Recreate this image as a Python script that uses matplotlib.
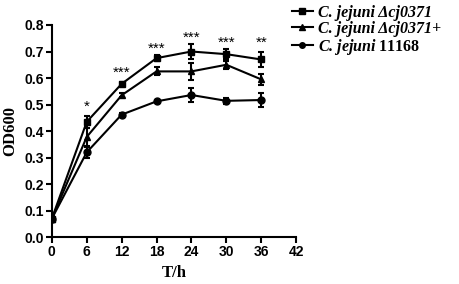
import matplotlib
matplotlib.use('Agg')
import matplotlib.pyplot as plt
from matplotlib.lines import Line2D
import numpy as np

##Data
hours = [0, 6, 12, 18, 24, 30, 36]
mutant = [0.07, 0.435, 0.578, 0.675, 0.700, 0.690, 0.670]
mutant_err = [0.01, 0.022, 0.008, 0.012, 0.027, 0.02, 0.03]
complement = [0.07, 0.378, 0.535, 0.625, 0.625, 0.650, 0.595]
complement_err = [0.01, 0.035, 0.008, 0.015, 0.033, 0.015, 0.022]
wildtype = [0.07, 0.320, 0.462, 0.512, 0.536, 0.514, 0.517]
wildtype_err = [0.01, 0.02, 0.006, 0.006, 0.026, 0.012, 0.025]
stars = ['', '*', '***', '***', '***', '***', '**']
star_y = [0, 0.49, 0.62, 0.71, 0.75, 0.732, 0.732]
labels = ['C. jejuni Δcj0371', 'C. jejuni Δcj0371+', r'C. jejuni $\mathrm{11168}$']
markers = ['s', '^', 'o']

plt.rcParams['mathtext.fontset'] = 'custom'
plt.rcParams['mathtext.it'] = 'Liberation Serif:italic:bold'
plt.rcParams['mathtext.rm'] = 'Liberation Serif:bold'
plt.rcParams['mathtext.bf'] = 'Liberation Serif:bold'

fig = plt.figure(figsize=(4.59, 2.84), dpi=100)
ax = fig.add_axes([0.113, 0.165, 0.532, 0.747])

kw = dict(color='black', lw=1.5, capsize=2.5, elinewidth=1.5, capthick=1.5, markersize=5)
for vals, err, m in zip([mutant, complement, wildtype],
                        [mutant_err, complement_err, wildtype_err], markers):
    ax.errorbar(hours, vals, yerr=err, marker=m, **kw)

for h, s, y in zip(hours, stars, star_y):
    if s:
        ax.text(h, y, s, ha='center', va='center', fontsize=11,
                family='Liberation Sans')

ax.set_xlim(0, 42)
ax.set_ylim(0, 0.8)
ax.set_xticks(np.arange(0, 43, 6))
ax.set_yticks(np.arange(0, 0.81, 0.1))
ax.set_yticklabels(['%.1f' % v for v in np.arange(0, 0.81, 0.1)])
for lab in ax.get_xticklabels() + ax.get_yticklabels():
    lab.set_fontfamily('Liberation Sans')
    lab.set_fontweight('bold')
    lab.set_fontsize(10)
ax.spines['top'].set_visible(False)
ax.spines['right'].set_visible(False)
ax.spines['left'].set_linewidth(1.5)
ax.spines['bottom'].set_linewidth(1.5)
ax.tick_params(width=1.5, length=4, pad=2)

ax.set_xlabel('T/h', family='Liberation Serif', fontweight='bold', fontsize=12)
ax.set_ylabel('OD600', family='Liberation Serif', fontweight='bold', fontsize=12)

handles = [Line2D([], [], color='black', lw=1.5, marker=m, markersize=4) for m in markers]
fig.legend(handles, labels, loc='upper left', bbox_to_anchor=(292 / 459, 1 - 5 / 284),
           frameon=False, borderpad=0, borderaxespad=0,
           prop={'family': 'Liberation Serif', 'weight': 'bold', 'style': 'italic', 'size': 11.5},
           handlelength=1.3, handletextpad=0.35, labelspacing=0.0)

fig.savefig('out.png', dpi=100)
